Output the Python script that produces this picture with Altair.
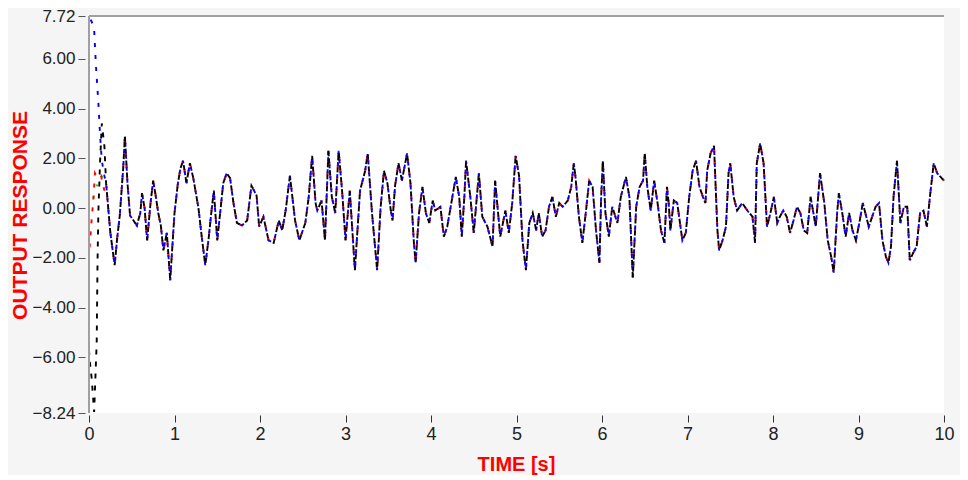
import altair as alt
import pandas as pd

# ---- shared part of the response (t >= 0.2 s) ----
time_shared = [
    0.20, 0.25, 0.30, 0.33, 0.36, 0.40, 0.42, 0.45, 0.48, 0.52, 0.56, 0.60, 0.62, 0.65, 0.68,
    0.72, 0.75, 0.78, 0.81, 0.84, 0.87, 0.91, 0.95, 1.00, 1.04, 1.07, 1.10, 1.14, 1.18, 1.22,
    1.25, 1.28, 1.32, 1.36, 1.40, 1.43, 1.46, 1.50, 1.54, 1.57, 1.61, 1.65, 1.69, 1.73, 1.79,
    1.85, 1.90, 1.96, 1.99, 2.04, 2.10, 2.16, 2.22, 2.26, 2.30, 2.35, 2.41, 2.46, 2.53, 2.57,
    2.61, 2.65, 2.67, 2.72, 2.76, 2.80, 2.84, 2.88, 2.92, 2.96, 3.00, 3.05, 3.11, 3.17, 3.23,
    3.26, 3.31, 3.37, 3.41, 3.45, 3.49, 3.53, 3.55, 3.58, 3.62, 3.66, 3.72, 3.76, 3.80, 3.82,
    3.86, 3.90, 3.94, 3.98, 4.02, 4.05, 4.11, 4.15, 4.19, 4.25, 4.29, 4.33, 4.36, 4.39, 4.41,
    4.46, 4.50, 4.56, 4.60, 4.66, 4.72, 4.75, 4.81, 4.87, 4.91, 4.95, 4.99, 5.03, 5.07, 5.11,
    5.15, 5.19, 5.23, 5.26, 5.30, 5.34, 5.38, 5.42, 5.46, 5.50, 5.54, 5.60, 5.64, 5.67, 5.69,
    5.73, 5.77, 5.81, 5.85, 5.89, 5.93, 5.97, 5.99, 6.01, 6.04, 6.08, 6.12, 6.18, 6.22, 6.28,
    6.32, 6.36, 6.40, 6.44, 6.48, 6.50, 6.53, 6.57, 6.61, 6.65, 6.69, 6.73, 6.76, 6.78, 6.80,
    6.84, 6.88, 6.94, 6.98, 7.02, 7.06, 7.10, 7.14, 7.18, 7.21, 7.23, 7.27, 7.31, 7.35, 7.37,
    7.41, 7.45, 7.48, 7.50, 7.54, 7.58, 7.64, 7.70, 7.76, 7.79, 7.81, 7.85, 7.89, 7.93, 7.97,
    8.01, 8.05, 8.08, 8.12, 8.16, 8.20, 8.24, 8.28, 8.32, 8.36, 8.40, 8.44, 8.48, 8.50, 8.55,
    8.60, 8.64, 8.68, 8.71, 8.75, 8.77, 8.81, 8.85, 8.89, 8.93, 8.97, 9.01, 9.05, 9.08, 9.12,
    9.16, 9.20, 9.24, 9.28, 9.32, 9.35, 9.38, 9.41, 9.45, 9.49, 9.53, 9.57, 9.60, 9.64, 9.68,
    9.72, 9.76, 9.80, 9.84, 9.88, 9.92, 9.96, 10.00,
]
response_shared = [
    1.0, -1.0, -2.3, -1.2, -0.3, 1.6, 2.9, 1.0, -0.3, -0.5, -0.7, -0.2, 0.6, 0.0, -1.3,
    0.2, 1.1, 0.5, -0.2, -0.7, -1.7, -1.0, -2.9, -0.2, 1.0, 1.6, 1.9, 1.0, 1.8, 1.2,
    0.6, 0.0, -1.2, -2.3, -1.2, -0.2, 0.7, -1.3, 0.0, 1.0, 1.4, 1.2, 0.2, -0.6, -0.7,
    -0.5, 0.9, 0.5, -0.75, -0.35, -1.3, -1.4, -0.5, -0.9, -0.1, 1.3, -0.5, -1.3, -0.6, 0.45,
    2.1, 0.2, -0.1, 0.3, -1.3, 2.3, 0.45, -0.2, 2.3, 0.7, -1.3, 0.7, -2.5, 0.7, 1.5,
    2.2, -0.2, -2.5, 0.0, 1.5, 1.0, -0.1, -0.5, 0.9, 1.8, 1.1, 2.2, 1.0, -1.4, -2.2,
    -0.2, 0.85, -0.2, -0.6, 0.3, -0.1, 0.05, -1.15, -0.75, 0.45, 1.25, 0.45, -1.15, 0.45, 1.9,
    0.45, -1.0, 1.4, -0.35, -0.75, -1.55, 1.1, -1.15, -0.1, -1.0, 0.2, 2.1, 1.3, -1.3, -2.5,
    -0.6, -0.2, -0.9, -0.2, -1.15, -0.9, 0.05, 0.45, -0.35, 0.2, 0.05, 0.3, 0.85, 1.8, 1.25,
    -0.35, -1.4, -0.2, 1.1, 0.85, -0.9, -2.2, 0.45, 1.9, -0.2, -1.15, 0.05, -0.6, 0.45, 1.25,
    0.45, -2.8, 0.05, 0.85, 1.1, 2.2, 0.85, -0.1, 1.1, 0.2, -0.9, -1.4, 0.85, 0.2, -0.9,
    0.3, 0.2, -1.3, -1.0, 0.45, 1.5, 1.9, 0.85, 0.45, 0.2, 1.5, 2.2, 2.5, -0.9, -1.7,
    -1.3, -0.75, 1.4, 1.8, 0.45, -0.1, 0.2, -0.1, -0.35, -1.4, 1.8, 2.6, 1.8, -0.75, -0.2,
    0.45, -0.6, -0.35, -0.1, -0.35, -1.0, -0.5, 0.05, -0.2, -0.9, -1.0, 0.45, -0.35, -0.75, 1.4,
    0.2, -1.3, -1.95, -2.6, -0.2, 0.6, -0.2, -1.15, -0.2, -0.9, -1.3, -0.6, 0.2, -0.2, -0.75,
    -0.35, 0.05, 0.2, -1.3, -1.95, -2.2, -1.55, 0.45, 1.9, -0.6, 0.05, 0.05, -2.1, -1.8, -1.55,
    -0.2, -0.1, -0.75, 0.6, 1.8, 1.4, 1.25, 1.1,
]

# ---- start-up transients, one per output ----
green_start_t = [0.00, 0.05, 0.10, 0.15, 0.18]
green_start_v = [0.0, 0.4, 1.0, 1.3, 1.0]
red_start_t = [0.00, 0.03, 0.05, 0.07, 0.10, 0.14, 0.18]
red_start_v = [-1.9, -0.5, 0.3, 1.4, 1.2, 1.3, 0.7]
blue_start_t = [0.00, 0.03, 0.06, 0.08, 0.11, 0.13, 0.15, 0.18]
blue_start_v = [7.72, 7.5, 7.2, 5.8, 4.2, 2.9, 1.9, 1.3]
black_start_t = [0.00, 0.01, 0.03, 0.05, 0.06, 0.09, 0.10, 0.11, 0.13, 0.15, 0.18]
black_start_v = [-5.7, -6.2, -6.8, -7.7, -8.2, -5.4, -2.1, -0.1, 1.9, 3.4, 2.5]

series_names = ["green", "red", "blue", "black"]
series_colors = ["#00dd00", "#ff0000", "#0000ff", "#000000"]
series_starts = [
    (green_start_t, green_start_v),
    (red_start_t, red_start_v),
    (blue_start_t, blue_start_v),
    (black_start_t, black_start_v),
]
series_dash = [[2, 10], [4, 8], [4, 8], [5, 7]]
dash_offsets = [1, 4, 8, 0]

y_ticks = [-8.24, -6.0, -4.0, -2.0, 0.0, 2.0, 4.0, 6.0, 7.72]
x_ticks = [0, 1, 2, 3, 4, 5, 6, 7, 8, 9, 10]

rows = []
for name, (st, sv) in zip(series_names, series_starts):
    for t, v in zip(st + time_shared, sv + response_shared):
        rows.append({"t": t, "v": v, "series": name})
df = pd.DataFrame(rows)

W, H = 855, 397

x_scale = alt.Scale(domain=[0, 10], nice=False, zero=False)
y_scale = alt.Scale(domain=[-8.24, 7.72], nice=False, zero=False)

x_axis = alt.Axis(
    values=x_ticks, format="d", title="TIME [s]", grid=False, domain=False,
    tickColor="#333333", tickSize=7, offset=2, labelFontSize=18, labelColor="#222222",
    labelFont="Liberation Sans", labelPadding=3, labelFlush=False,
    titleColor="#ff0000", titleFont="Liberation Sans", titleFontSize=20, titleFontWeight="bold",
    titleX=427, titleY=55, titleBaseline="alphabetic", titleAlign="center",
)
y_axis = alt.Axis(
    values=y_ticks, format=".2f", title="OUTPUT RESPONSE", grid=False, domain=False,
    tickColor="#555555", tickSize=7, offset=4, labelFontSize=17, labelColor="#222222",
    labelFont="Liberation Sans", labelPadding=3, labelFlush=False,
    titleColor="#ff0000", titleFont="Liberation Sans", titleFontSize=21, titleFontWeight="bold",
    titleAngle=-90, titleX=-59, titleY=199, titleAlign="center", titleBaseline="alphabetic",
)

layers = []
for name, color, dash, off in zip(series_names, series_colors, series_dash, dash_offsets):
    layers.append(
        alt.Chart(df)
        .transform_filter(alt.datum.series == name)
        .mark_line(color=color, strokeWidth=1.9, strokeDash=dash, strokeDashOffset=off)
        .encode(
            x=alt.X("t:Q", scale=x_scale, axis=x_axis),
            y=alt.Y("v:Q", scale=y_scale, axis=y_axis),
            order="t:Q",
        )
    )

frame_top = alt.Chart(df).mark_rule(color="#a0a0a0", strokeWidth=1.5).encode(
    x=alt.value(0), x2=alt.value(W), y=alt.value(0)
)
frame_left = alt.Chart(df).mark_rule(color="#a0a0a0", strokeWidth=1.5).encode(
    x=alt.value(0), y=alt.value(0), y2=alt.value(H)
)

chart = (
    alt.layer(*layers, frame_top, frame_left)
    .properties(
        width=W, height=H, background="#f5f5f5",
        autosize=alt.AutoSizeParams(type="none"),
        padding={"left": 81, "top": 8, "right": 16, "bottom": 62},
    )
    .configure_view(fill="white", stroke=None)
)

chart.save("out.html", embed_options={"renderer": "svg", "actions": False})
